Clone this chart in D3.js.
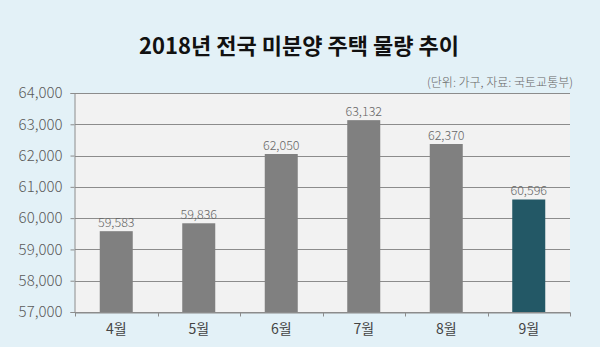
<!DOCTYPE html>
<html><head><meta charset="utf-8">
<script src="https://cdn.jsdelivr.net/npm/d3@7"></script>
<style>
html,body{margin:0;padding:0;background:#e3f1f7;}
svg{display:block;}
</style></head>
<body>
<svg id="chart" width="600" height="347"></svg>
<script>
const categories = ["4월","5월","6월","7월","8월","9월"];
const values = [59583, 59836, 62050, 63132, 62370, 60596];
const yTicks = [57000,58000,59000,60000,61000,62000,63000,64000];
const title = "2018년 전국 미분양 주택 물량 추이";
const note = "(단위: 가구, 자료: 국토교통부)";

const svg = d3.select("#chart");
const W = 600, H = 347;
const m = {left:75, right:30, top:93, bottom:35};
const font = "'Noto Sans CJK KR', 'Noto Sans', sans-serif";

svg.append("rect").attr("width",W).attr("height",H).attr("fill","#e3f1f7");

const x = d3.scaleBand().domain(categories).range([m.left, W-m.right]).paddingInner(0.6).paddingOuter(0.3);
const y = d3.scaleLinear().domain([57000,64000]).range([H-m.bottom, m.top]);

svg.append("rect").attr("x",m.left).attr("y",m.top)
  .attr("width",W-m.right-m.left).attr("height",H-m.bottom-m.top).attr("fill","#f2f2f2");

// gridlines
svg.append("g").selectAll("line").data(yTicks).join("line")
  .attr("x1",m.left).attr("x2",W-m.right)
  .attr("y1",d=>Math.round(y(d))+0.5).attr("y2",d=>Math.round(y(d))+0.5)
  .attr("stroke","#8c8c8c").attr("stroke-width",1);

// bars
svg.append("g").selectAll("rect").data(values).join("rect")
  .attr("x",(d,i)=>x(categories[i]))
  .attr("width",x.bandwidth())
  .attr("y",d=>y(d))
  .attr("height",d=>y(57000)-y(d))
  .attr("fill",(d,i)=>i===values.length-1?"#235866":"#808080");

// value labels
svg.append("g").selectAll("text").data(values).join("text")
  .attr("x",(d,i)=>x(categories[i])+x.bandwidth()/2)
  .attr("y",d=>y(d)-4)
  .attr("text-anchor","middle")
  .attr("font-family",font).attr("font-size",12.5).attr("font-weight",300).attr("fill","#666")
  .text(d=>d3.format(",")(d));

// y axis
const yAxis = svg.append("g").attr("transform",`translate(${m.left-0.5},0)`)
  .call(d3.axisLeft(y).tickValues(yTicks).tickFormat(d3.format(",")).tickSize(4).tickPadding(8));
yAxis.select(".domain").attr("stroke","#8c8c8c");
yAxis.selectAll(".tick line").attr("stroke","#8c8c8c");
yAxis.selectAll("text").attr("font-family",font).attr("font-size",15).attr("fill","#5a5a5a").attr("font-weight",300);

// x axis
const xAxis = svg.append("g").attr("transform",`translate(0,${H-m.bottom+0.5})`)
  .call(d3.axisBottom(x).tickSize(0).tickPadding(12));
xAxis.select(".domain").attr("stroke","#8c8c8c");
xAxis.selectAll("text").attr("font-family",font).attr("font-size",14).attr("fill","#444");
// tick marks between bands
const bounds = d3.range(categories.length+1).map(i=>m.left + i*(W-m.right-m.left)/categories.length);
xAxis.selectAll(".sep").data(bounds).join("line").attr("class","sep")
  .attr("x1",d=>Math.round(d)+0.5).attr("x2",d=>Math.round(d)+0.5)
  .attr("y1",0).attr("y2",4).attr("stroke","#8c8c8c");

// title
svg.append("text").attr("x",299).attr("y",54).attr("text-anchor","middle")
  .attr("font-family",font).attr("font-size",22).attr("font-weight",700).attr("fill","#111")
  .text(title);

// note
svg.append("text").attr("x",573).attr("y",87).attr("text-anchor","end")
  .attr("font-family",font).attr("font-size",12).attr("font-weight",300).attr("fill","#666")
  .text(note);
</script>
</body></html>
